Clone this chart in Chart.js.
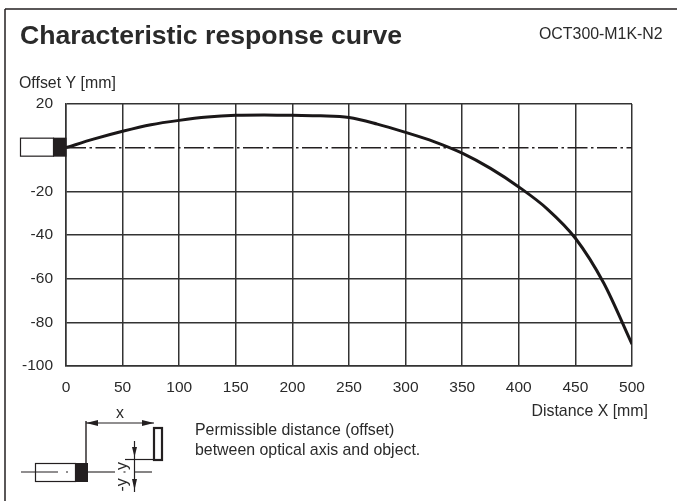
<!DOCTYPE html>
<html><head><meta charset="utf-8">
<style>html,body{margin:0;padding:0;background:#fff}#w{position:relative;width:677px;height:501px}</style>
<script src="https://cdn.jsdelivr.net/npm/chart.js@4/dist/chart.umd.min.js"></script>
</head><body><div id="w"><canvas id="c" width="677" height="501"></canvas></div>
<script>
const distanceX = [0,25,50,75,100,125,150,175,200,225,250,275,300,325,350,375,400,425,450,475,500];
const offsetY = [0,4,7.5,10.5,12.5,14,14.8,15,14.8,14.6,13.8,10.8,7,2.8,-2.5,-9.5,-18,-28,-41.5,-62,-90];
const axisX = [0,500];
const axisY = [0,0];
const xTicks = [0,50,100,150,200,250,300,350,400,450,500];
const yTicks = [20,0,-20,-40,-60,-80,-100];
const titleText = 'Characteristic response curve';
const modelText = 'OCT300-M1K-N2';
const yAxisText = 'Offset Y [mm]';
const xAxisText = 'Distance X [mm]';
const noteLines = ['Permissible distance (offset)','between optical axis and object.'];
const INK='#231f20', TXT='#2a2a2a', GRID='#333333';
const FONT='"Liberation Sans", Arial, sans-serif';

function line(c,x1,y1,x2,y2,w){c.lineWidth=w||1.2;c.strokeStyle=INK;c.beginPath();c.moveTo(x1,y1);c.lineTo(x2,y2);c.stroke();}
function head(c,x1,y1,x2,y2,x3,y3){c.fillStyle=INK;c.beginPath();c.moveTo(x1,y1);c.lineTo(x2,y2);c.lineTo(x3,y3);c.closePath();c.fill();}

const decor={id:'decor',afterDraw(ch){
  const c=ch.ctx,y0=ch.scales.y.getPixelForValue(0);
  c.save();
  // frame
  line(c,5,9,677,9,1.5); line(c,5,9,5,501,1.5);
  // sensor on the axis
  c.fillStyle='#fff';c.fillRect(20.5,y0-9.5,33,18);
  c.strokeStyle=INK;c.lineWidth=1.2;c.strokeRect(20.5,y0-9.5,33,18);
  c.fillStyle=INK;c.fillRect(53,y0-10,13.5,19);
  // texts
  c.fillStyle=TXT;c.textBaseline='alphabetic';c.textAlign='left';
  c.font='bold 26.65px '+FONT;c.fillText(titleText,20,44);
  c.font='15.9px '+FONT;c.fillText(modelText,539,39);
  c.fillText(yAxisText,19,88);
  c.textAlign='right';c.fillText(xAxisText,648,416);
  c.textAlign='left';c.fillText(noteLines[0],195,435);c.fillText(noteLines[1],195,455);
  c.textAlign='center';c.fillText('x',120,418);
  c.save();c.translate(127,475);c.rotate(-Math.PI/2);c.fillText('-y',-10,0);c.fillText('y',9,0);c.restore();
  // sketch
  const a=472;
  line(c,21,a,58,a,1.1);line(c,66,a,68,a,1.1);line(c,88,a,115,a,1.1);line(c,123.5,a,125.5,a,1.1);line(c,135,a,152,a,1.1);
  c.strokeStyle=INK;c.lineWidth=1.2;c.strokeRect(35.5,463.5,40,18);
  c.fillStyle=INK;c.fillRect(75,463,13,19);
  line(c,86,421,86,463,1.4);
  line(c,86,423,154,423,1.2);
  head(c,86,423,98,420,98,426);head(c,154,423,142,420,142,426);
  c.strokeStyle=INK;c.lineWidth=2.2;c.strokeRect(154,428,8,32);
  line(c,125,459.5,154,459.5,1.2);
  line(c,134.5,441,134.5,492,1.2);
  head(c,134.5,457,132,447,137,447);
  head(c,134.5,490,132,479,137,479);
  c.restore();
}};

new Chart(document.getElementById('c'),{
  type:'line',
  data:{datasets:[
    {data:axisX.map((x,i)=>({x,y:axisY[i]})),borderColor:INK,borderWidth:1.5,borderDash:[20,3.5,2.5,3.5],pointRadius:0,fill:false},
    {data:distanceX.map((x,i)=>({x,y:offsetY[i]})),borderColor:'#1a1718',borderWidth:3,cubicInterpolationMode:'monotone',pointRadius:0,fill:false}
  ]},
  options:{
    responsive:false,animation:false,
    layout:{padding:{left:0,top:104,right:45,bottom:99}},
    plugins:{legend:{display:false},tooltip:{enabled:false},title:{display:false}},
    scales:{
      x:{type:'linear',min:0,max:500,
        afterBuildTicks(s){s.ticks=xTicks.map(v=>({value:v}));},
        afterFit(s){s.height=36;},
        grid:{color:GRID,lineWidth:1.5,drawTicks:false},
        border:{color:GRID,width:1.5},
        ticks:{color:TXT,font:{family:FONT,size:15.5},padding:12,maxRotation:0,autoSkip:false}},
      y:{type:'linear',min:-100,max:20,
        afterBuildTicks(s){s.ticks=yTicks.map(v=>({value:v}));},
        afterFit(s){s.width=66;},
        grid:{color:c=>c.tick&&c.tick.value===0?'rgba(0,0,0,0)':GRID,lineWidth:1.5,drawTicks:false},
        border:{color:GRID,width:1.5},
        ticks:{color:TXT,font:{family:FONT,size:15.5},padding:13,autoSkip:false,callback:v=>v===0?'':String(v)}}
    }
  },
  plugins:[decor]
});
</script></body></html>
